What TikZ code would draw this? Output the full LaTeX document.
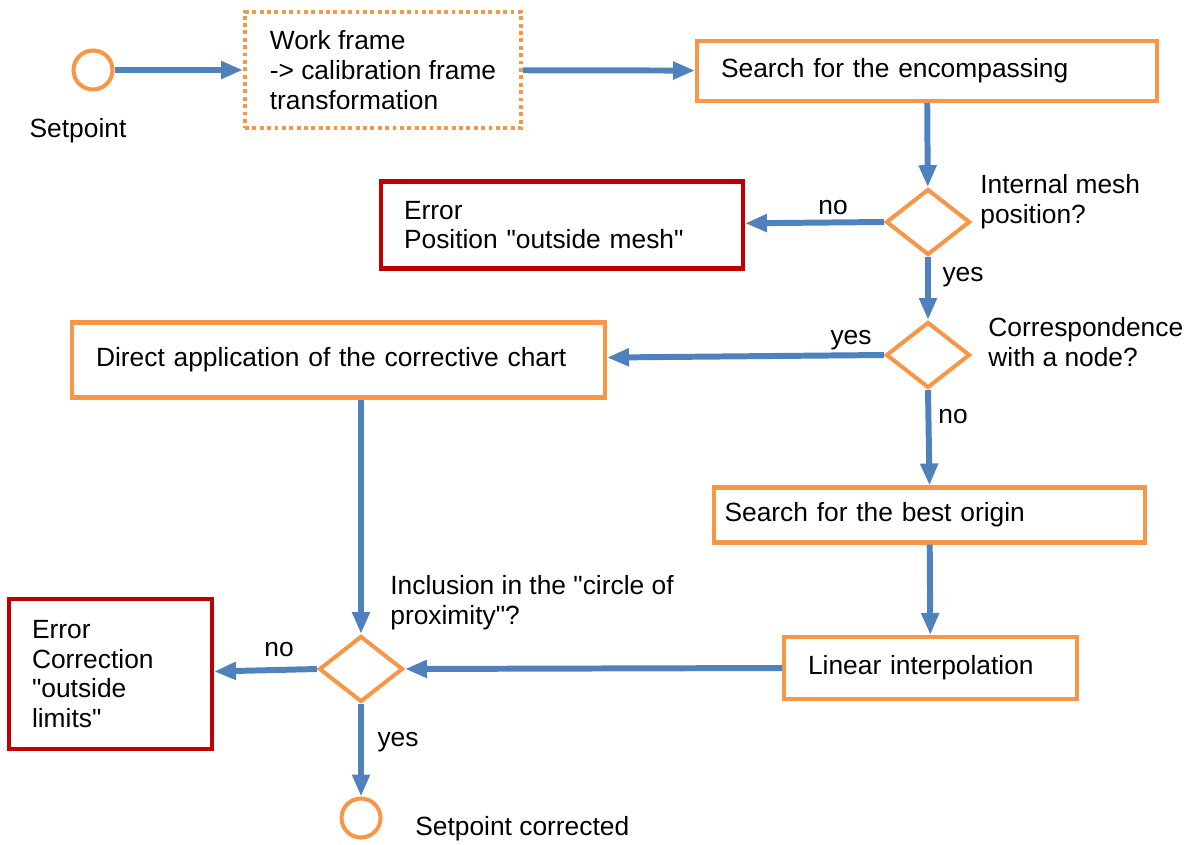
\documentclass[tikz,border=0pt]{standalone}
\usepackage{fontspec}
\setmainfont{Liberation Sans}
\usetikzlibrary{arrows.meta, shapes.geometric}
\definecolor{boxorange}{RGB}{247,150,70}
\definecolor{flowblue}{RGB}{79,129,189}
\definecolor{errred}{RGB}{192,0,0}

\begin{document}
\begin{tikzpicture}[
    x=0.02cm, y=-0.02cm,
    font=\fontsize{15pt}{17pt}\selectfont,
    % Node styles
    terminal/.style={circle, draw=boxorange, line width=2.3pt, minimum size=0.78cm, inner sep=0pt},
    process/.style={rectangle, draw=boxorange, line width=2.3pt, inner xsep=0.48cm, align=left},
    dotbox/.style={process, dash pattern=on 2.2pt off 2pt},
    errorbox/.style={rectangle, draw=errred, line width=2.3pt, inner xsep=0.46cm, align=left},
    decision/.style={diamond, draw=boxorange, line width=2.3pt, minimum width=1.68cm, minimum height=1.32cm, inner sep=0pt},
    lbl/.style={inner sep=0pt, align=left},
    % Edge styles
    edge/.style={draw=flowblue, line width=3.4pt, -{Triangle[length=12.5pt, width=9.6pt]}}
]
\useasboundingbox (0,0) rectangle (1195,844);

% Start
\node[terminal] (start) at (93,70) {};
\node[lbl] (startlbl) at (78,131) {Setpoint};

% First row
\node[dotbox, minimum width=5.52cm, minimum height=2.32cm] (frame) at (383,70) {Work frame\\-> calibration frame\\transformation};
\node[process, minimum width=9.2cm, minimum height=1.2cm, text width=8.24cm] (search) at (927,71) {Search for the encompassing};

% Mesh test
\node[decision] (d1) at (928,222) {};
\node[lbl, anchor=west] (q1) at (980,202) {Internal mesh\\position?};
\node[errorbox, minimum width=7.24cm, minimum height=1.74cm, text width=6.32cm] (err1) at (562,225) {Error\\Position \textquotedbl outside mesh\textquotedbl};

% Node test
\node[decision] (d2) at (928,355) {};
\node[lbl, anchor=west] (q2) at (988,342) {Correspondence\\with a node?};
\node[process, minimum width=10.66cm, minimum height=1.5cm, text width=9.7cm] (direct) at (338.5,360) {Direct application of the corrective chart};

% Interpolation branch
\node[process, minimum width=8.62cm, minimum height=1.1cm, text width=8.2cm, inner xsep=0.21cm] (best) at (929.5,515) {Search for the best origin};
\node[process, minimum width=5.86cm, minimum height=1.24cm, text width=4.9cm] (linear) at (930.5,668) {Linear interpolation};

% Proximity test
\node[decision] (d3) at (361,669) {};
\node[lbl, anchor=west] (q3) at (390,603) {Inclusion in the \textquotedbl circle of\\proximity\textquotedbl ?};
\node[errorbox, minimum width=4.06cm, minimum height=3cm, text width=3.14cm] (err2) at (110.5,674) {Error\\Correction\\\textquotedbl outside\\limits\textquotedbl};

% End
\node[terminal] (stop) at (361,818) {};
\node[lbl, anchor=west] (stoplbl) at (415,829) {Setpoint corrected};

% Branch labels
\node[lbl] (no1) at (833,208) {no};
\node[lbl] (yes1) at (963,277) {yes};
\node[lbl] (yes2) at (851,340) {yes};
\node[lbl] (no2) at (953,417) {no};
\node[lbl] (no3) at (279,650) {no};
\node[lbl] (yes3) at (398,742) {yes};

% Draw all edges
\draw[edge] (start) -- (frame.west);
\draw[edge] (frame) -- (search);

\draw[edge] (search) -- (d1);
\draw[edge] (d1.west) -- (err1);
\draw[edge] (d1) -- (d2);

\draw[edge] (d2.west) -- (direct);
\draw[edge] (d2.south) -- (best.north);

\draw[edge] (best) -- (linear);
\draw[edge] (linear.west) -- (d3.east);

\draw[edge] (direct.south -| d3.north) -- (d3.north);
\draw[edge] (d3.west) -- (err2);
\draw[edge] (d3) -- (stop);

\end{tikzpicture}
\end{document}
